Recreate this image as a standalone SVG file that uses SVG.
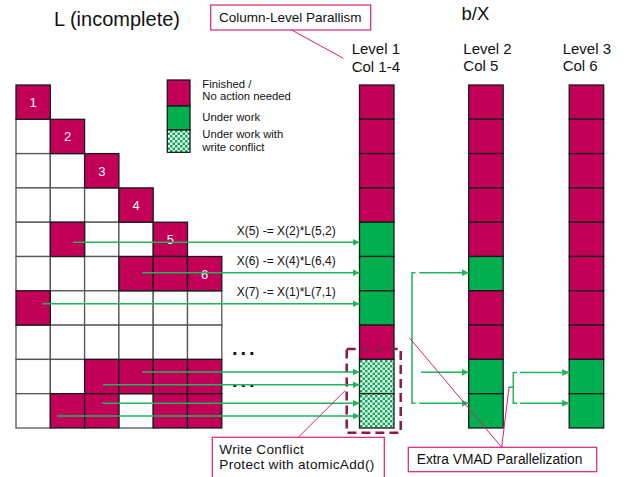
<svg xmlns="http://www.w3.org/2000/svg" width="632" height="477" viewBox="0 0 632 477">
<style>
text{font-family:"Liberation Sans",Arial,sans-serif;fill:#111}
.m{fill:#c20058;stroke:#1a1a1a;stroke-width:1.3}
.w{fill:#fff;stroke:#555;stroke-width:1.3}
.g{fill:#00b050;stroke:#1a1a1a;stroke-width:1.3}
.c{fill:url(#chk);stroke:#1a1a1a;stroke-width:1.3}
.num{fill:#fff;font-size:13px;text-anchor:middle}
.lvl{font-size:15px}
.lg{font-size:11.3px}
.eq{font-size:12px}
.call{fill:#fff;stroke:#d4237a;stroke-width:1.2}
.cl{stroke:#d4237a;stroke-width:1;fill:none}
.ar{stroke:#1eb45a;stroke-width:1.5;fill:none;marker-end:url(#ah)}
.br{stroke:#1eb45a;stroke-width:1.5;fill:none}
.dots{font-size:20px;font-weight:bold;letter-spacing:3px}
</style>
<defs>
<pattern id="chk" patternUnits="userSpaceOnUse" width="5" height="5">
<rect width="5" height="5" fill="#fff"/>
<rect width="2.5" height="2.5" fill="#00b050"/>
<rect x="2.5" y="2.5" width="2.5" height="2.5" fill="#00b050"/>
</pattern>
<marker id="ah" markerUnits="userSpaceOnUse" markerWidth="8" markerHeight="8" refX="7" refY="3.5" orient="auto">
<path d="M0,0 L7,3.5 L0,7 z" fill="#1eb45a"/>
</marker>
</defs>
<rect width="632" height="477" fill="#fff"/>

<text x="54" y="26" style="font-size:20px">L (incomplete)</text>
<text x="461.5" y="20" style="font-size:18.5px">b/X</text>

<g id="matrix">
<g>
<rect class="w" x="16" y="119.3" width="34.3" height="34.3"/>
<rect class="w" x="16" y="153.6" width="34.3" height="34.3"/>
<rect class="w" x="50.3" y="153.6" width="34.3" height="34.3"/>
<rect class="w" x="16" y="187.9" width="34.3" height="34.3"/>
<rect class="w" x="50.3" y="187.9" width="34.3" height="34.3"/>
<rect class="w" x="84.6" y="187.9" width="34.3" height="34.3"/>
<rect class="w" x="16" y="222.2" width="34.3" height="34.3"/>
<rect class="w" x="84.6" y="222.2" width="34.3" height="34.3"/>
<rect class="w" x="118.9" y="222.2" width="34.3" height="34.3"/>
<rect class="w" x="16" y="256.5" width="34.3" height="34.3"/>
<rect class="w" x="50.3" y="256.5" width="34.3" height="34.3"/>
<rect class="w" x="84.6" y="256.5" width="34.3" height="34.3"/>
<rect class="w" x="50.3" y="290.8" width="34.3" height="34.3"/>
<rect class="w" x="84.6" y="290.8" width="34.3" height="34.3"/>
<rect class="w" x="118.9" y="290.8" width="34.3" height="34.3"/>
<rect class="w" x="153.2" y="290.8" width="34.3" height="34.3"/>
<rect class="w" x="187.5" y="290.8" width="34.3" height="34.3"/>
<rect class="w" x="16" y="325.1" width="34.3" height="34.3"/>
<rect class="w" x="50.3" y="325.1" width="34.3" height="34.3"/>
<rect class="w" x="84.6" y="325.1" width="34.3" height="34.3"/>
<rect class="w" x="118.9" y="325.1" width="34.3" height="34.3"/>
<rect class="w" x="153.2" y="325.1" width="34.3" height="34.3"/>
<rect class="w" x="187.5" y="325.1" width="34.3" height="34.3"/>
<rect class="w" x="16" y="359.4" width="34.3" height="34.3"/>
<rect class="w" x="50.3" y="359.4" width="34.3" height="34.3"/>
<rect class="w" x="16" y="393.7" width="34.3" height="34.3"/>
<rect class="w" x="118.9" y="393.7" width="34.3" height="34.3"/>
</g>
<g>
<rect class="m" x="16" y="85" width="34.3" height="34.3"/>
<rect class="m" x="50.3" y="119.3" width="34.3" height="34.3"/>
<rect class="m" x="84.6" y="153.6" width="34.3" height="34.3"/>
<rect class="m" x="118.9" y="187.9" width="34.3" height="34.3"/>
<rect class="m" x="50.3" y="222.2" width="34.3" height="34.3"/>
<rect class="m" x="153.2" y="222.2" width="34.3" height="34.3"/>
<rect class="m" x="118.9" y="256.5" width="34.3" height="34.3"/>
<rect class="m" x="153.2" y="256.5" width="34.3" height="34.3"/>
<rect class="m" x="187.5" y="256.5" width="34.3" height="34.3"/>
<rect class="m" x="16" y="290.8" width="34.3" height="34.3"/>
<rect class="m" x="84.6" y="359.4" width="34.3" height="34.3"/>
<rect class="m" x="118.9" y="359.4" width="34.3" height="34.3"/>
<rect class="m" x="153.2" y="359.4" width="34.3" height="34.3"/>
<rect class="m" x="187.5" y="359.4" width="34.3" height="34.3"/>
<rect class="m" x="50.3" y="393.7" width="34.3" height="34.3"/>
<rect class="m" x="84.6" y="393.7" width="34.3" height="34.3"/>
<rect class="m" x="153.2" y="393.7" width="34.3" height="34.3"/>
<rect class="m" x="187.5" y="393.7" width="34.3" height="34.3"/>
</g>
<text class="num" x="33.2" y="107">1</text>
<text class="num" x="67.5" y="141.3">2</text>
<text class="num" x="101.8" y="175.6">3</text>
<text class="num" x="136.1" y="209.9">4</text>
<text class="num" x="170.4" y="244.2">5</text>
<text class="num" x="204.7" y="278.5">6</text>
</g>

<g id="legend">
<rect class="m" x="167.3" y="80" width="22.7" height="26"/>
<rect class="g" x="167.3" y="106" width="22.7" height="24"/>
<rect class="c" x="167.3" y="130" width="22.7" height="22.3"/>
<text class="lg" x="202.3" y="87.5">Finished /</text>
<text class="lg" x="202.3" y="100.3">No action needed</text>
<text class="lg" x="202.3" y="120.5">Under work</text>
<text class="lg" x="202.3" y="138">Under work with</text>
<text class="lg" x="202.3" y="150.7">write conflict</text>
</g>

<g id="level1">
<text class="lvl" x="351.7" y="54.3">Level 1</text>
<text class="lvl" x="351.7" y="71.7">Col 1-4</text>
<rect class="m" x="359.5" y="85" width="34.5" height="34.3"/>
<rect class="m" x="359.5" y="119.3" width="34.5" height="34.3"/>
<rect class="m" x="359.5" y="153.6" width="34.5" height="34.3"/>
<rect class="m" x="359.5" y="187.9" width="34.5" height="34.3"/>
<rect class="g" x="359.5" y="222.2" width="34.5" height="34.3"/>
<rect class="g" x="359.5" y="256.5" width="34.5" height="34.3"/>
<rect class="g" x="359.5" y="290.8" width="34.5" height="34.3"/>
<rect class="m" x="359.5" y="325.1" width="34.5" height="34.3"/>
<rect class="c" x="359.5" y="359.4" width="34.5" height="34.3"/>
<rect class="c" x="359.5" y="393.7" width="34.5" height="34.3"/>
</g>

<g id="level2">
<text class="lvl" x="463.3" y="53.5">Level 2</text>
<text class="lvl" x="463.3" y="71">Col 5</text>
<rect class="m" x="468.7" y="85" width="34.5" height="34.3"/>
<rect class="m" x="468.7" y="119.3" width="34.5" height="34.3"/>
<rect class="m" x="468.7" y="153.6" width="34.5" height="34.3"/>
<rect class="m" x="468.7" y="187.9" width="34.5" height="34.3"/>
<rect class="m" x="468.7" y="222.2" width="34.5" height="34.3"/>
<rect class="g" x="468.7" y="256.5" width="34.5" height="34.3"/>
<rect class="m" x="468.7" y="290.8" width="34.5" height="34.3"/>
<rect class="m" x="468.7" y="325.1" width="34.5" height="34.3"/>
<rect class="g" x="468.7" y="359.4" width="34.5" height="34.3"/>
<rect class="g" x="468.7" y="393.7" width="34.5" height="34.3"/>
</g>

<g id="level3">
<text class="lvl" x="562.7" y="53.5">Level 3</text>
<text class="lvl" x="562.7" y="71">Col 6</text>
<rect class="m" x="569.2" y="85" width="34.5" height="34.3"/>
<rect class="m" x="569.2" y="119.3" width="34.5" height="34.3"/>
<rect class="m" x="569.2" y="153.6" width="34.5" height="34.3"/>
<rect class="m" x="569.2" y="187.9" width="34.5" height="34.3"/>
<rect class="m" x="569.2" y="222.2" width="34.5" height="34.3"/>
<rect class="m" x="569.2" y="256.5" width="34.5" height="34.3"/>
<rect class="m" x="569.2" y="290.8" width="34.5" height="34.3"/>
<rect class="m" x="569.2" y="325.1" width="34.5" height="34.3"/>
<rect class="g" x="569.2" y="359.4" width="34.5" height="34.3"/>
<rect class="g" x="569.2" y="393.7" width="34.5" height="34.3"/>
</g>

<g id="conflict-region">
<rect x="346.7" y="349" width="54" height="83.7" fill="none" stroke="#8b1a4b" stroke-width="2.5" stroke-dasharray="9 5"/>
</g>

<g id="dots">
<text class="dots" x="232" y="355">...</text>
<text class="dots" x="232" y="386.5">...</text>
</g>

<g id="equations">
<text class="eq" x="236.7" y="234.5">X(5) -= X(2)*L(5,2)</text>
<text class="eq" x="236.7" y="264.7">X(6) -= X(4)*L(6,4)</text>
<text class="eq" x="236.7" y="296">X(7) -= X(1)*L(7,1)</text>
</g>

<g id="connectors">
<line class="ar" x1="73" y1="242.3" x2="359.5" y2="242.3"/>
<line class="ar" x1="142" y1="272.7" x2="359.5" y2="272.7"/>
<line class="ar" x1="42" y1="303.7" x2="359.5" y2="303.7"/>
<line class="ar" x1="142" y1="372" x2="359.5" y2="372"/>
<line class="ar" x1="103" y1="384.7" x2="359.5" y2="384.7"/>
<line class="ar" x1="102" y1="403.3" x2="359.5" y2="403.3"/>
<line class="ar" x1="57" y1="416" x2="359.5" y2="416"/>
<path class="br" d="M415.5,272.7 H412 V403.3 H415.5"/>
<line class="ar" x1="419.3" y1="272.7" x2="468.7" y2="272.7"/>
<line class="ar" x1="421" y1="372.3" x2="468.7" y2="372.3"/>
<line class="ar" x1="419.3" y1="403.3" x2="468.7" y2="403.3"/>
<path class="br" d="M517,372.5 H513.3 V403.3 H517 M508.3,387.3 H513.3"/>
<line class="ar" x1="520" y1="372.5" x2="569.2" y2="372.5"/>
<line class="ar" x1="520" y1="403.3" x2="569.2" y2="403.3"/>
</g>

<g id="callout-column-level">
<line class="cl" x1="291.7" y1="30" x2="343.3" y2="58.3"/>
<rect class="call" x="210.7" y="5" width="160" height="25"/>
<text x="219" y="22" style="font-size:13.5px">Column-Level Parallism</text>
</g>

<g id="callout-write-conflict">
<line class="cl" x1="298.3" y1="437.3" x2="345" y2="390.7"/>
<rect class="call" x="212.3" y="437.3" width="172" height="45"/>
<text x="219.3" y="454" style="font-size:13.6px;letter-spacing:0.3px">Write Conflict</text>
<text x="219.3" y="469.3" style="font-size:13.6px;letter-spacing:0.3px">Protect with atomicAdd()</text>
</g>

<g id="callout-vmad">
<line class="cl" x1="409.3" y1="337.7" x2="501.7" y2="447.3"/>
<line class="cl" x1="509" y1="387.3" x2="501.7" y2="447.3"/>
<rect class="call" x="408.3" y="447.3" width="188.4" height="24.4"/>
<text x="416.7" y="463.5" style="font-size:13.8px">Extra VMAD Parallelization</text>
</g>
</svg>
